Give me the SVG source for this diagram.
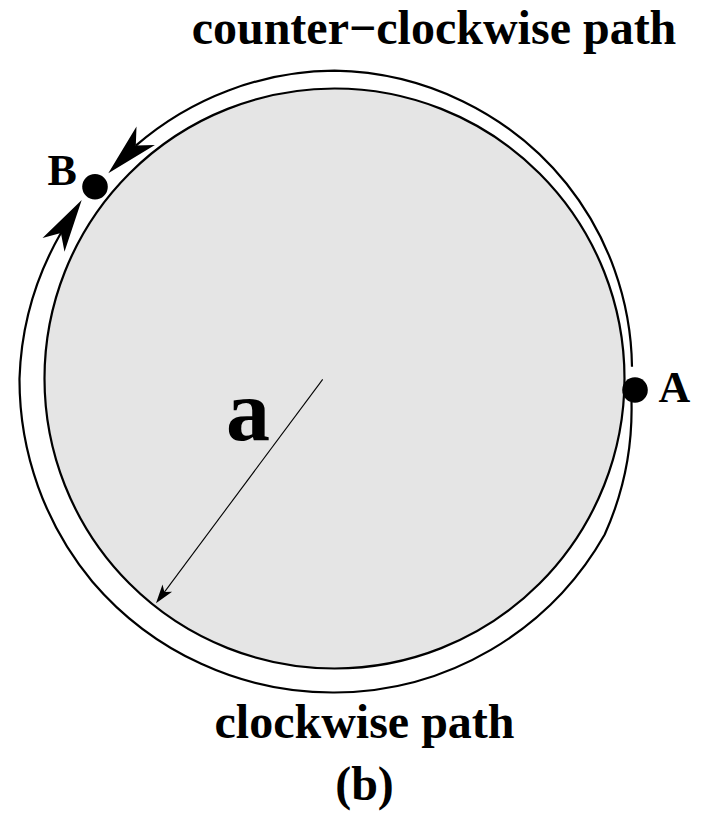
<svg xmlns="http://www.w3.org/2000/svg" width="703" height="822" viewBox="0 0 703 822">
<style>
.lbl{font-family:"Liberation Serif","Times New Roman",serif;font-weight:bold;fill:#000}
.arc{fill:none;stroke:#000;stroke-width:2.2}
.thin{fill:none;stroke:#000;stroke-width:1.1}
.head{fill:#000;stroke:none}
</style>
<rect width="703" height="822" fill="#fff"/>
<g id="disk">
<circle cx="334.5" cy="378.5" r="290" fill="#e5e5e5" stroke="#000" stroke-width="2.2"/>
</g>
<g id="connectors">
<path id="ccw-path" class="arc" d="M 632 366.7 A 300 300 0 0 0 566.6 183.7 A 305 305 0 0 0 334.5 70.7 A 307 307 0 0 0 135.8 145.6"/>
<polygon class="head" points="108.3,173.3 154.9,144.9 135.8,145.6 136.5,126.5"/>
<path id="cw-path" class="arc" d="M 631.5 402 A 305 305 0 0 1 604.7 534.5 A 312 312 0 0 1 334.5 692.5 A 316 316 0 0 1 92.4 581.7 A 316 316 0 0 1 19.5 378.5 A 312 312 0 0 1 60.9 233"/>
<polygon class="head" points="81.7,200 64.5,251.7 60.9,233 42.5,237.9"/>
<line id="radius" class="thin" x1="322.7" y1="379.3" x2="164.4" y2="592.1"/>
<polygon class="head" points="156,603.3 172.1,591.7 164.4,592.1 162.5,584.5"/>
</g>
<g id="pointA">
<circle cx="635" cy="390" r="12.8" fill="#000"/>
<text class="lbl" x="658.5" y="401.5" font-size="44">A</text>
</g>
<g id="pointB">
<circle cx="95" cy="186.7" r="12.8" fill="#000"/>
<text class="lbl" x="47.5" y="185" font-size="44">B</text>
</g>
<g id="labels">
<text class="lbl" x="226" y="440" font-size="88">a</text>
<text class="lbl" x="434" y="43.5" font-size="48" text-anchor="middle">counter−clockwise path</text>
<text class="lbl" x="364.5" y="738.3" font-size="48" text-anchor="middle">clockwise path</text>
<text class="lbl" x="364.5" y="800" font-size="48" text-anchor="middle">(b)</text>
</g>
</svg>
